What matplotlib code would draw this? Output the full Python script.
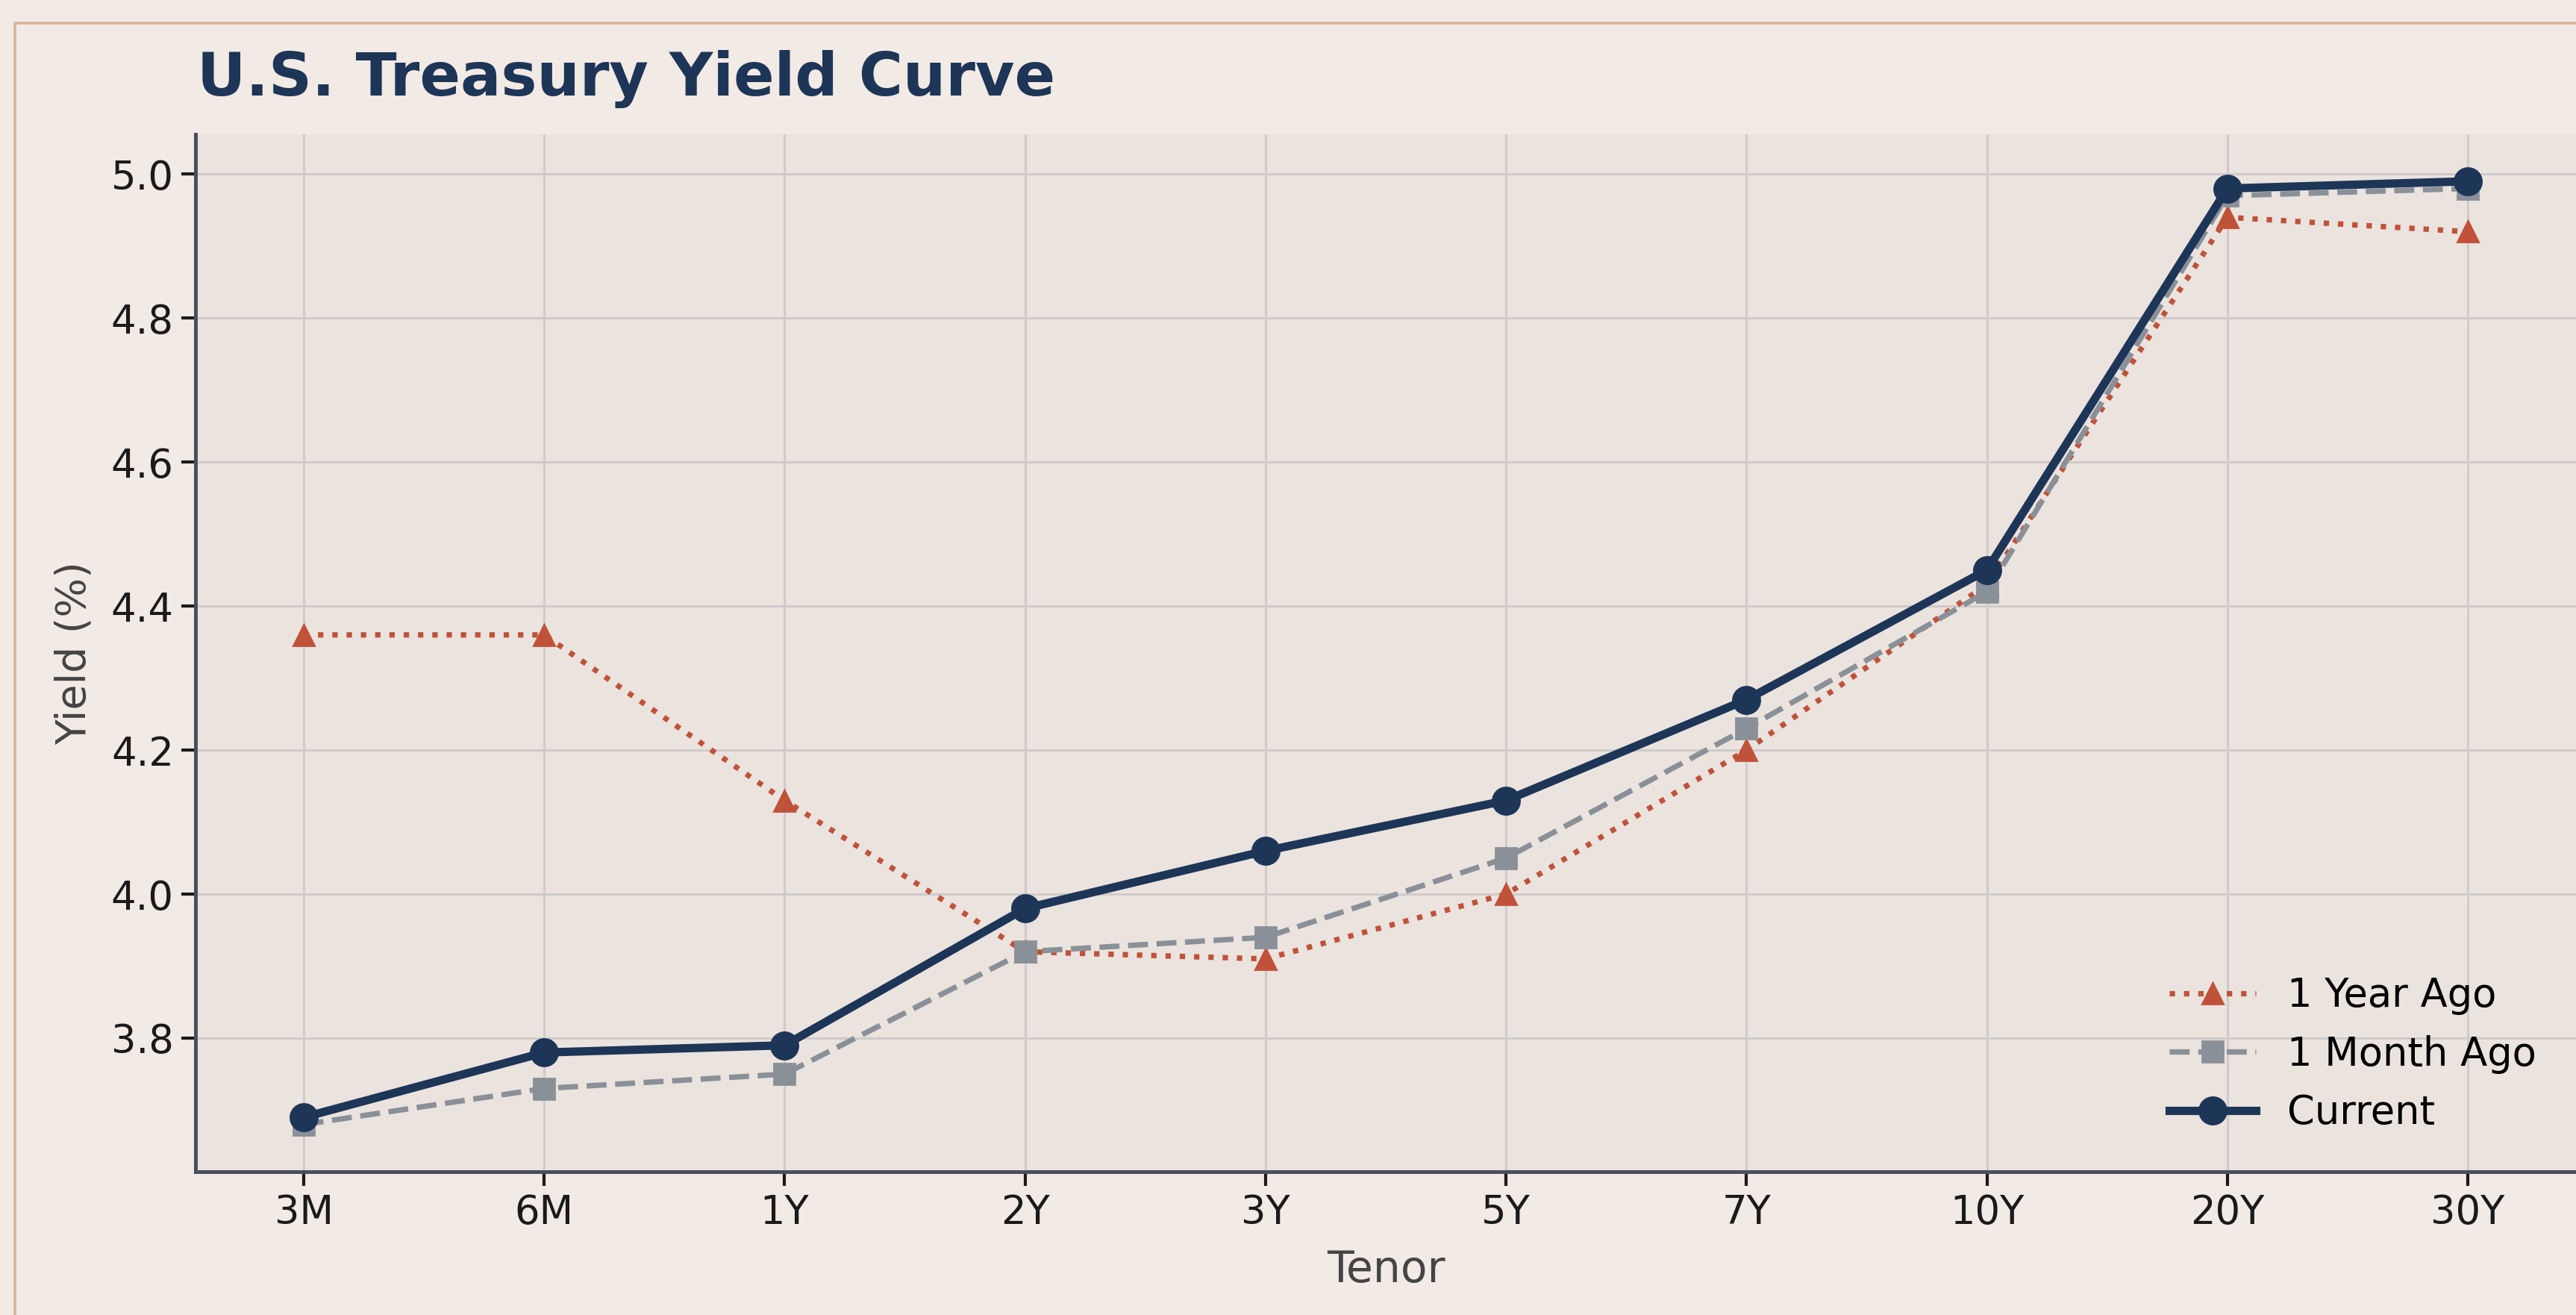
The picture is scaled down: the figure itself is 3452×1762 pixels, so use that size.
import matplotlib

matplotlib.use("Agg")
import matplotlib.pyplot as plt
from matplotlib.patches import Rectangle

tenors = ["3M", "6M", "1Y", "2Y", "3Y", "5Y", "7Y", "10Y", "20Y", "30Y"]
year_ago = [4.36, 4.36, 4.13, 3.92, 3.91, 4.00, 4.20, 4.43, 4.94, 4.92]
month_ago = [3.68, 3.73, 3.75, 3.92, 3.94, 4.05, 4.23, 4.42, 4.97, 4.98]
current = [3.69, 3.78, 3.79, 3.98, 4.06, 4.13, 4.27, 4.45, 4.98, 4.99]

navy = "#1d3557"
gray = "#8a9098"
rust = "#c0523a"

fig = plt.figure(figsize=(17.26, 8.81), dpi=200, facecolor="#f2eae4")
ax = fig.add_axes([0.0759, 0.109, 0.9241, 0.789])
ax.set_facecolor("#ebe3de")

x = range(len(tenors))
ax.plot(x, year_ago, ":", color=rust, lw=2.6, marker="^", ms=10, label="1 Year Ago")
ax.plot(x, month_ago, "--", color=gray, lw=2.6, marker="s", ms=10, label="1 Month Ago")
ax.plot(x, current, "-", color=navy, lw=4.0, marker="o", ms=13, label="Current")

ax.set_xticks(list(x))
ax.set_xticklabels(tenors)
ax.set_yticks([3.8, 4.0, 4.2, 4.4, 4.6, 4.8, 5.0])
ax.tick_params(labelsize=19, colors="#1a1a1a", length=7, width=1.5)
ax.grid(True, color="#cfcbcb", lw=1.1)
ax.set_axisbelow(True)

for side in ["top", "right"]:
    ax.spines[side].set_visible(False)
for side in ["left", "bottom"]:
    ax.spines[side].set_color("#4a4f5c")
    ax.spines[side].set_linewidth(1.8)

ax.set_xlabel("Tenor", fontsize=21, color="#444444", labelpad=8)
ax.set_ylabel("Yield (%)", fontsize=20, color="#444444", labelpad=8)

fig.text(0.0765, 0.940, "U.S. Treasury Yield Curve", fontsize=29, fontweight="bold",
         color=navy, ha="left", va="center")

ax.legend(loc="lower right", frameon=False, fontsize=19, handlelength=2.2,
          borderaxespad=0.6, labelspacing=0.5)

# tan frame around the card
fig.patches.append(Rectangle((20 / 3452, -0.1), 1.2, 1.1 - 31 / 1762,
                             transform=fig.transFigure, fill=False,
                             edgecolor="#d8b59c", lw=1.3))

fig.savefig("out.png", dpi=200, facecolor=fig.get_facecolor())
